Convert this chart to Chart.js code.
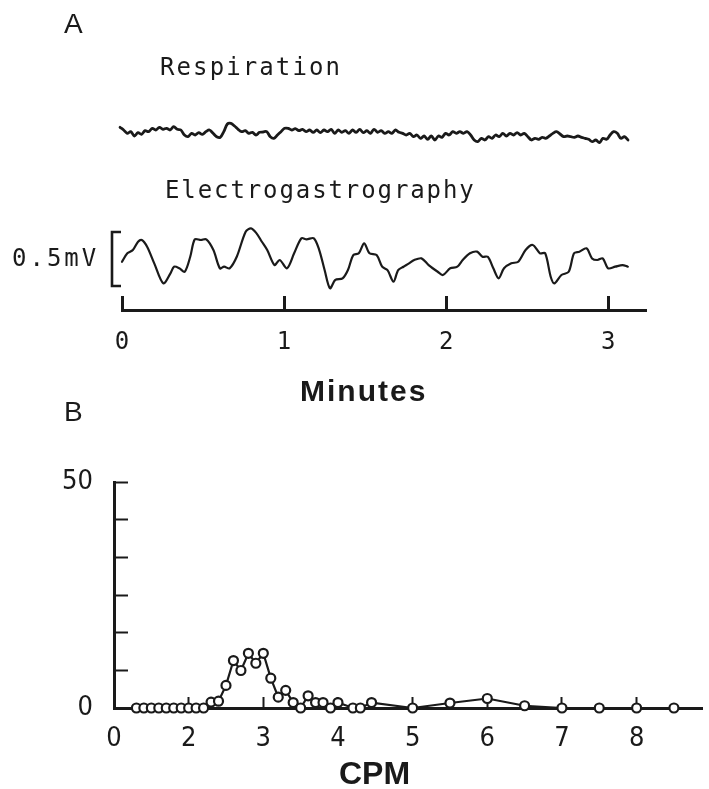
<!DOCTYPE html>
<html>
<head>
<meta charset="utf-8">
<script src="https://cdn.jsdelivr.net/npm/chart.js@4.4.0/dist/chart.umd.min.js"></script>
<style>
html,body{margin:0;padding:0;background:#fff;}
#page{position:relative;width:709px;height:789px;overflow:hidden;background:#fff;}
canvas{position:absolute;left:0;}
.t{position:absolute;white-space:nowrap;line-height:1;color:#1a1a1a;}
.mono{font-family:'DejaVu Sans Mono',monospace;}
.sans{font-family:'Liberation Sans',Arial,sans-serif;}
</style>
</head>
<body>
<div id="page">
  <canvas id="chartA" width="709" height="410" style="top:0px"></canvas>
  <canvas id="chartB" width="709" height="359" style="top:430px"></canvas>
  <div class="t sans" style="left:64px;top:10px;font-size:28px">A</div>
  <div class="t mono" style="left:160px;top:55px;font-size:24px;letter-spacing:2.1px">Respiration</div>
  <div class="t mono" style="left:165px;top:178px;font-size:24px;letter-spacing:1.9px">Electrogastrography</div>
  <div class="t mono" style="left:12px;top:246px;font-size:24px;letter-spacing:3px">0.5mV</div>
  <div class="t sans" style="left:300px;top:376px;font-size:30px;font-weight:bold;letter-spacing:2px">Minutes</div>
  <div class="t sans" style="left:64px;top:398px;font-size:28px">B</div>
  <div class="t sans" style="left:339px;top:757px;font-size:32px;font-weight:bold">CPM</div>
</div>
<script>
// ---------- Panel A data ----------
// Time axis (minutes)
const timeTickValues = [0, 1, 2, 3];
const timeTickLabels = ['0', '1', '2', '3'];

// Respiration trace (arbitrary units), uniformly sampled
const respStartMin = -0.012;
const respSampleMin = 0.02207;
const respValues = [
  1.8,1.0,0,0.5,-0.8,0.2,-0.3,0.8,0.5,1.5,1.0,1.8,1.2,1.5,1.0,2.0,1.2,1.0,-0.5,-1.0,
  0,-0.5,0.2,-0.3,0.5,1.0,0,-1.0,-1.2,0.5,2.8,3.0,2.2,1.2,0.5,0.8,0,0.3,-0.5,0.3,
  0.4,0.5,-1.0,-1.5,-0.5,0.5,1.5,1.5,1.0,1.4,0.8,1.2,0.5,1.0,0.3,1.0,0.2,1.0,0.5,1.2,
  0,1.0,0.3,0.8,0,1.0,0.3,1.2,0.2,0.8,0,1.2,0.3,0.8,0,0.5,0,1.0,0.3,0,
  -0.5,0,-1.0,-0.5,-1.5,-0.8,-1.8,-0.8,-2.0,-0.8,-1.2,0,-0.5,0.5,0,0.5,0,0.5,-0.5,-2.0,
  -2.5,-1.5,-2.0,-1.0,-1.5,-0.5,-1.0,0,-0.8,0,-0.5,0.2,-0.5,0,-1.0,-2.0,-1.5,-1.8,-1.2,-1.5,
  -0.8,0,0.5,-0.2,-1.0,-0.8,-1.0,-1.2,-0.8,-1.2,-1.5,-1.8,-2.5,-2.0,-2.8,-1.5,-1.8,-0.5,0.5,0,
  -1.5,-1.0,-2.0
];

// Electrogastrography trace (mV)
const eggTime = [
  0.000,0.033,0.067,0.099,0.122,0.155,0.199,0.255,0.299,0.321,0.354,0.387,0.421,0.449,0.487,0.520,0.564,0.604,0.630,0.664,
  0.708,0.763,0.796,0.830,0.863,0.896,0.941,0.973,1.018,1.062,1.107,1.139,1.184,1.217,1.250,1.283,1.316,1.361,1.394,1.427,
  1.461,1.494,1.527,1.571,1.605,1.638,1.675,1.704,1.737,1.771,1.803,1.848,1.892,1.948,1.980,2.025,2.069,2.102,2.147,2.191,
  2.224,2.257,2.291,2.324,2.357,2.402,2.445,2.490,2.534,2.579,2.611,2.645,2.667,2.711,2.756,2.789,2.822,2.866,2.900,2.933,
  2.966,2.999,3.043,3.088,3.121
];
const eggMv = [
  -0.025,0.053,0.083,0.160,0.176,0.114,-0.040,-0.225,-0.132,-0.071,-0.086,-0.118,0.021,0.182,0.176,0.182,0.083,-0.086,-0.071,-0.086,
  0.021,0.253,0.284,0.238,0.160,0.083,-0.056,-0.009,-0.086,0.053,0.192,0.182,0.192,0.083,-0.102,-0.271,-0.194,-0.179,-0.102,0.037,
  0.053,0.145,0.053,0.037,-0.071,-0.102,-0.210,-0.102,-0.071,-0.040,-0.009,0.006,-0.056,-0.118,-0.148,-0.086,-0.071,-0.009,0.053,0.068,
  0.021,0.021,-0.086,-0.179,-0.086,-0.040,-0.025,0.083,0.130,0.053,0.053,-0.164,-0.225,-0.148,-0.118,0.053,0.068,0.099,0.006,-0.009,
  0.006,-0.086,-0.071,-0.056,-0.071
];
const calibrationMv = 0.5;

// ---------- Panel B data ----------
const cpmTickValues = [1, 2, 3, 4, 5, 6, 7, 8];
const cpmTickLabels = ['0', '2', '3', '4', '5', '6', '7', '8'];
const powerTickValues = [0, 8.33, 16.67, 25, 33.33, 41.67, 50];
const powerTickLabels = ['0', '', '', '', '', '', '50'];
const spectrumCpm = [
  1.3,1.4,1.5,1.6,1.7,1.8,1.9,2.0,2.1,2.2,
  2.3,2.4,2.5,2.6,2.7,2.8,2.9,3.0,3.1,3.2,
  3.3,3.4,3.5,3.6,3.7,3.8,3.9,4.0,4.2,4.3,
  4.45,5.0,5.5,6.0,6.5,7.0,7.5,8.0,8.5
];
const spectrumPower = [
  0,0,0,0,0,0,0,0,0,0,
  1.3,1.5,5.0,10.5,8.3,12.1,9.9,12.1,6.6,2.4,
  3.9,1.2,0,2.7,1.2,1.2,0,1.2,0,0,
  1.2,0,1.1,2.1,0.5,0,0,0,0
];

// ---------- drawing ----------
const INK = '#1a1a1a';
const monoFont = "'DejaVu Sans Mono', monospace";
const narrowFont = "'Liberation Sans Narrow', 'DejaVu Sans Condensed', 'Liberation Sans', Arial, sans-serif";

const respPoints = respValues.map((v, i) => ({ x: respStartMin + i * respSampleMin, y: v }));
const eggPoints = eggTime.map((t, i) => ({ x: t, y: eggMv[i] }));

const calibrationBar = {
  id: 'calibrationBar',
  afterDatasetsDraw(chart) {
    const ye = chart.scales.ye;
    const ctx = chart.ctx;
    const left = chart.chartArea.left;
    const yTop = ye.getPixelForValue(calibrationMv / 2);
    const yBot = ye.getPixelForValue(-calibrationMv / 2);
    ctx.save();
    ctx.strokeStyle = INK;
    ctx.lineWidth = 2.6;
    ctx.lineCap = 'butt';
    ctx.beginPath();
    ctx.moveTo(left - 1, yTop);
    ctx.lineTo(left - 10, yTop);
    ctx.lineTo(left - 10, yBot);
    ctx.lineTo(left - 1, yBot);
    ctx.stroke();
    ctx.restore();
  }
};

new Chart(document.getElementById('chartA'), {
  type: 'line',
  data: {
    datasets: [
      { label: 'Respiration', data: respPoints, xAxisID: 'x', yAxisID: 'yr',
        borderColor: INK, borderWidth: 2.8, pointRadius: 0, tension: 0.35, clip: false,
        borderJoinStyle: 'round', borderCapStyle: 'round' },
      { label: 'Electrogastrography', data: eggPoints, xAxisID: 'x', yAxisID: 'ye',
        borderColor: INK, borderWidth: 2.2, pointRadius: 0, tension: 0.3, clip: false,
        borderJoinStyle: 'round', borderCapStyle: 'round' }
    ]
  },
  options: {
    responsive: false, animation: false, events: [],
    layout: { padding: { left: 122, right: 63, top: 110, bottom: 0 } },
    plugins: { legend: { display: false }, tooltip: { enabled: false } },
    scales: {
      x: {
        type: 'linear', position: 'bottom', min: 0, max: 3.233,
        afterFit(s) { s.height = 100; },
        afterBuildTicks(s) { s.ticks = timeTickValues.map(v => ({ value: v })); },
        border: { display: true, width: 3, color: INK },
        grid: { display: true, drawOnChartArea: false, drawTicks: true, tickLength: -14, tickWidth: 3, tickColor: INK },
        ticks: { autoSkip: false, maxRotation: 0, padding: 32, color: INK,
          font: { family: monoFont, size: 24 },
          callback: (v, i) => timeTickLabels[i] }
      },
      yr: { type: 'linear', display: false, min: -53, max: 7 },
      ye: { type: 'linear', display: false, min: -0.472, max: 1.380 }
    }
  },
  plugins: [calibrationBar]
});

new Chart(document.getElementById('chartB'), {
  type: 'line',
  data: {
    datasets: [{
      label: 'Power',
      data: spectrumCpm.map((c, i) => ({ x: c, y: spectrumPower[i] })),
      borderColor: INK, borderWidth: 2.2, tension: 0, clip: false,
      pointRadius: 4.5, pointBorderWidth: 2.2, pointBackgroundColor: '#ffffff', pointBorderColor: INK
    }]
  },
  options: {
    responsive: false, animation: false, events: [],
    layout: { padding: { left: 0, right: 0, top: 52, bottom: 0 } },
    plugins: { legend: { display: false }, tooltip: { enabled: false } },
    scales: {
      x: {
        type: 'linear', position: 'bottom', min: 1, max: 8.88,
        afterFit(s) { s.height = 81; },
        afterBuildTicks(s) { s.ticks = cpmTickValues.map(v => ({ value: v })); },
        border: { display: true, width: 3, color: INK },
        grid: { display: true, drawOnChartArea: false, drawTicks: true, tickLength: -11, tickWidth: 2, tickColor: INK },
        ticks: { autoSkip: false, maxRotation: 0, padding: 26, color: INK,
          font: { family: narrowFont, size: 27 },
          callback: (v, i) => cpmTickLabels[i] }
      },
      y: {
        type: 'linear', position: 'left', min: 0, max: 50,
        afterFit(s) { s.width = 114; },
        afterBuildTicks(s) { s.ticks = powerTickValues.map(v => ({ value: v })); },
        border: { display: true, width: 3, color: INK },
        grid: { display: true, drawOnChartArea: false, drawTicks: true, tickLength: -14, tickWidth: 2, tickColor: INK },
        ticks: { autoSkip: false, padding: 35, color: INK,
          font: { family: narrowFont, size: 27 },
          callback: (v, i) => powerTickLabels[i] }
      }
    }
  }
});
</script>
</body>
</html>
